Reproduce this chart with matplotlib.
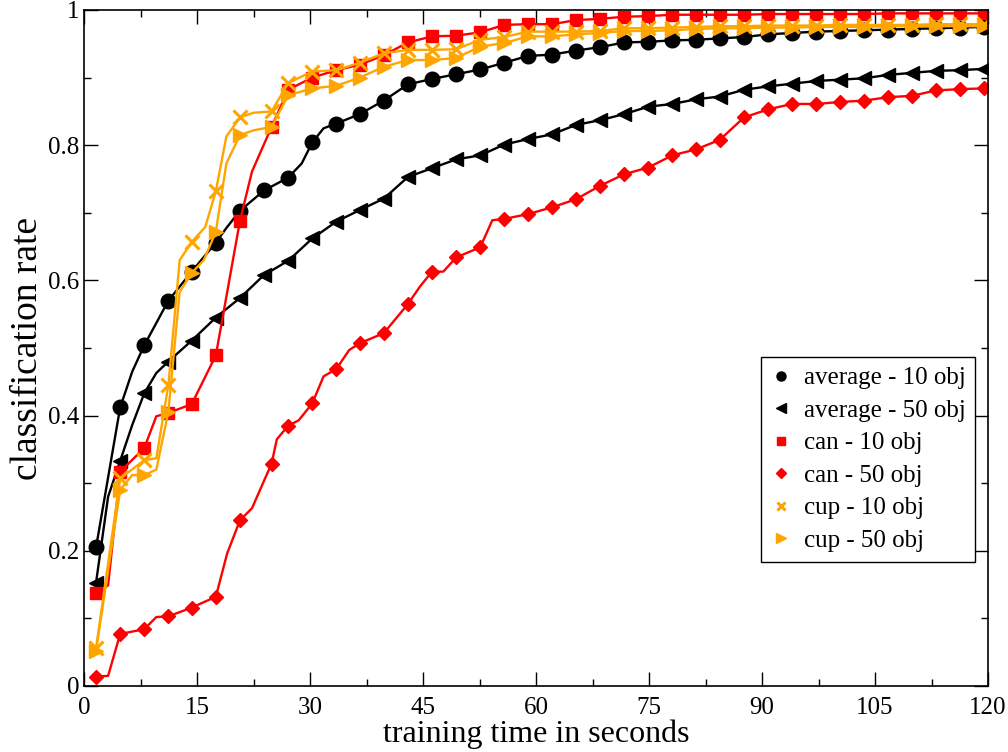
import matplotlib
matplotlib.use('Agg')
import matplotlib.pyplot as plt
from matplotlib.ticker import MultipleLocator, FuncFormatter

plt.rcParams['font.family'] = ['Liberation Serif', 'DejaVu Serif']

# sample times (seconds) where symbols are drawn
t_avg = [1.6, 4.8, 8.0, 11.2, 14.3, 17.5, 20.7, 23.9, 27.1, 30.3, 33.5, 36.6, 39.8,
         43.0, 46.2, 49.4, 52.6, 55.8, 58.9, 62.1, 65.3, 68.5, 71.7, 74.9, 78.1,
         81.3, 84.4, 87.6, 90.8, 94.0, 97.2, 100.4, 103.6, 106.7, 109.9, 113.1,
         116.3, 119.5]
t_obj = [1.6, 4.8, 8.0, 11.2, 14.3, 17.5, 20.7, 24.9, 27.1, 30.3, 33.5, 36.6, 39.8,
         43.0, 46.2, 49.4, 52.6, 55.8, 58.9, 62.1, 65.3, 68.5, 71.7, 74.9, 78.1,
         81.3, 84.4, 87.6, 90.8, 94.0, 97.2, 100.4, 103.6, 106.7, 109.9, 113.1,
         116.3, 119.5]

avg_10 = [0.205, 0.412, 0.504, 0.570, 0.613, 0.656, 0.703, 0.733, 0.752, 0.804,
          0.832, 0.846, 0.866, 0.890, 0.898, 0.905, 0.912, 0.922, 0.932, 0.934,
          0.940, 0.945, 0.952, 0.953, 0.955, 0.956, 0.958, 0.960, 0.964, 0.966,
          0.968, 0.969, 0.970, 0.971, 0.972, 0.973, 0.974, 0.975]
avg_50 = [0.153, 0.333, 0.433, 0.480, 0.511, 0.545, 0.574, 0.608, 0.629, 0.662,
          0.687, 0.704, 0.721, 0.753, 0.766, 0.779, 0.785, 0.801, 0.809, 0.816,
          0.830, 0.837, 0.846, 0.857, 0.861, 0.868, 0.872, 0.882, 0.887, 0.891,
          0.895, 0.897, 0.899, 0.904, 0.907, 0.910, 0.911, 0.913]
can_10 = [0.137, 0.317, 0.352, 0.404, 0.417, 0.489, 0.688, 0.827, 0.882, 0.900,
          0.911, 0.919, 0.933, 0.952, 0.961, 0.962, 0.967, 0.978, 0.979, 0.979,
          0.985, 0.987, 0.990, 0.991, 0.993, 0.993, 0.993, 0.993, 0.994, 0.994,
          0.994, 0.994, 0.994, 0.995, 0.995, 0.995, 0.995, 0.995]
can_50 = [0.014, 0.077, 0.084, 0.103, 0.116, 0.132, 0.245, 0.329, 0.385, 0.418,
          0.469, 0.507, 0.522, 0.565, 0.613, 0.634, 0.649, 0.691, 0.698, 0.708,
          0.720, 0.740, 0.757, 0.767, 0.785, 0.794, 0.808, 0.841, 0.853, 0.861,
          0.861, 0.864, 0.866, 0.871, 0.873, 0.881, 0.883, 0.884]
cup_10 = [0.056, 0.307, 0.334, 0.445, 0.657, 0.732, 0.841, 0.850, 0.892, 0.909,
          0.911, 0.922, 0.936, 0.941, 0.941, 0.942, 0.956, 0.960, 0.968, 0.968,
          0.968, 0.969, 0.973, 0.973, 0.974, 0.975, 0.976, 0.976, 0.977, 0.977,
          0.977, 0.978, 0.978, 0.978, 0.978, 0.979, 0.979, 0.979]
cup_50 = [0.052, 0.290, 0.312, 0.406, 0.611, 0.672, 0.815, 0.827, 0.874, 0.884,
          0.888, 0.900, 0.916, 0.926, 0.926, 0.929, 0.946, 0.951, 0.961, 0.961,
          0.964, 0.966, 0.969, 0.969, 0.970, 0.972, 0.973, 0.973, 0.974, 0.974,
          0.975, 0.975, 0.975, 0.976, 0.976, 0.976, 0.976, 0.976]

# extra line points between symbols (the curves are sampled twice as often)
avg_10_mid_t = [6.4, 19.0, 28.9, 31.8]
avg_10_mid_y = [0.465, 0.679, 0.773, 0.825]
avg_50_mid_t = [3.2, 6.4, 9.6]
avg_50_mid_y = [0.280, 0.386, 0.463]
can_10_mid_t = [3.2, 9.6, 22.3]
can_10_mid_y = [0.149, 0.399, 0.761]
can_50_mid_t = [3.2, 9.6, 19.0, 22.3, 25.6, 28.5, 31.8, 35.2, 44.6, 47.7, 54.2]
can_50_mid_y = [0.015, 0.102, 0.196, 0.263, 0.365, 0.393, 0.458, 0.497, 0.591, 0.613, 0.689]
cup_10_mid_t = [9.6, 12.7, 16.1, 18.9, 22.5]
cup_10_mid_y = [0.337, 0.630, 0.679, 0.813, 0.848]
cup_50_mid_t = [6.4, 9.6, 12.7, 15.9, 18.9, 22.5]
cup_50_mid_y = [0.312, 0.320, 0.583, 0.630, 0.773, 0.822]

labels = ['average - 10 obj', 'average - 50 obj', 'can - 10 obj',
          'can - 50 obj', 'cup - 10 obj', 'cup - 50 obj']


def merge(t, y, mt, my):
    pts = sorted(list(zip(t, y)) + list(zip(mt, my)))
    return [p[0] for p in pts], [p[1] for p in pts]


series = [
    (t_avg, avg_10, avg_10_mid_t, avg_10_mid_y, 'black', 'o', 10.5, {}),
    (t_avg, avg_50, avg_50_mid_t, avg_50_mid_y, 'black', '<', 10.5, {}),
    (t_obj, can_10, can_10_mid_t, can_10_mid_y, '#ff0000', 's', 8.5, {}),
    (t_obj, can_50, can_50_mid_t, can_50_mid_y, '#ff0000', 'D', 7.5, {}),
    (t_obj, cup_10, cup_10_mid_t, cup_10_mid_y, '#ffa500', 'x', 10, {'markeredgewidth': 2.2}),
    (t_obj, cup_50, cup_50_mid_t, cup_50_mid_y, '#ffa500', '>', 10.5, {}),
]

fig = plt.figure(figsize=(10.08, 7.52), dpi=100)
ax = fig.add_axes([84 / 1008, 1 - 686 / 752, 904 / 1008, 676 / 752])

handles = []
for lab, (t, y, mt, my, col, mk, ms, kw) in zip(labels, series):
    lt, ly = merge(t, y, mt, my)
    ax.plot(lt, ly, color=col, lw=1.7, solid_joinstyle='round')
    h, = ax.plot(t, y, linestyle='none', marker=mk, markersize=ms, color=col,
                 markeredgecolor=col, label=lab, **kw)
    handles.append(h)

ax.set_xlim(0, 120)
ax.set_ylim(0, 1)
ax.xaxis.set_major_locator(MultipleLocator(15))
ax.xaxis.set_minor_locator(MultipleLocator(7.5))
ax.yaxis.set_major_locator(MultipleLocator(0.2))
ax.yaxis.set_minor_locator(MultipleLocator(0.1))
ax.yaxis.set_major_formatter(FuncFormatter(lambda v, p: '%g' % round(v, 2)))
ax.tick_params(which='both', direction='in', top=True, right=True, labelsize=18)
ax.tick_params(axis='x', pad=8)
ax.tick_params(which='major', length=10, width=1)
ax.tick_params(which='minor', length=5, width=1)
for s in ax.spines.values():
    s.set_linewidth(1.2)

ax.set_xlabel('training time in seconds', fontsize=23, labelpad=0)
ax.set_ylabel('classification rate', fontsize=27, labelpad=2)

leg = ax.legend(handles=handles, loc='upper left', bbox_to_anchor=(0.749, 0.487),
                borderaxespad=0, fontsize=18, numpoints=1, markerscale=0.62,
                handlelength=0.8, handletextpad=0.5, labelspacing=0.4,
                borderpad=0.4, fancybox=False, framealpha=1, edgecolor='black')
leg.get_frame().set_linewidth(1.0)

fig.savefig('out.png', dpi=100)
